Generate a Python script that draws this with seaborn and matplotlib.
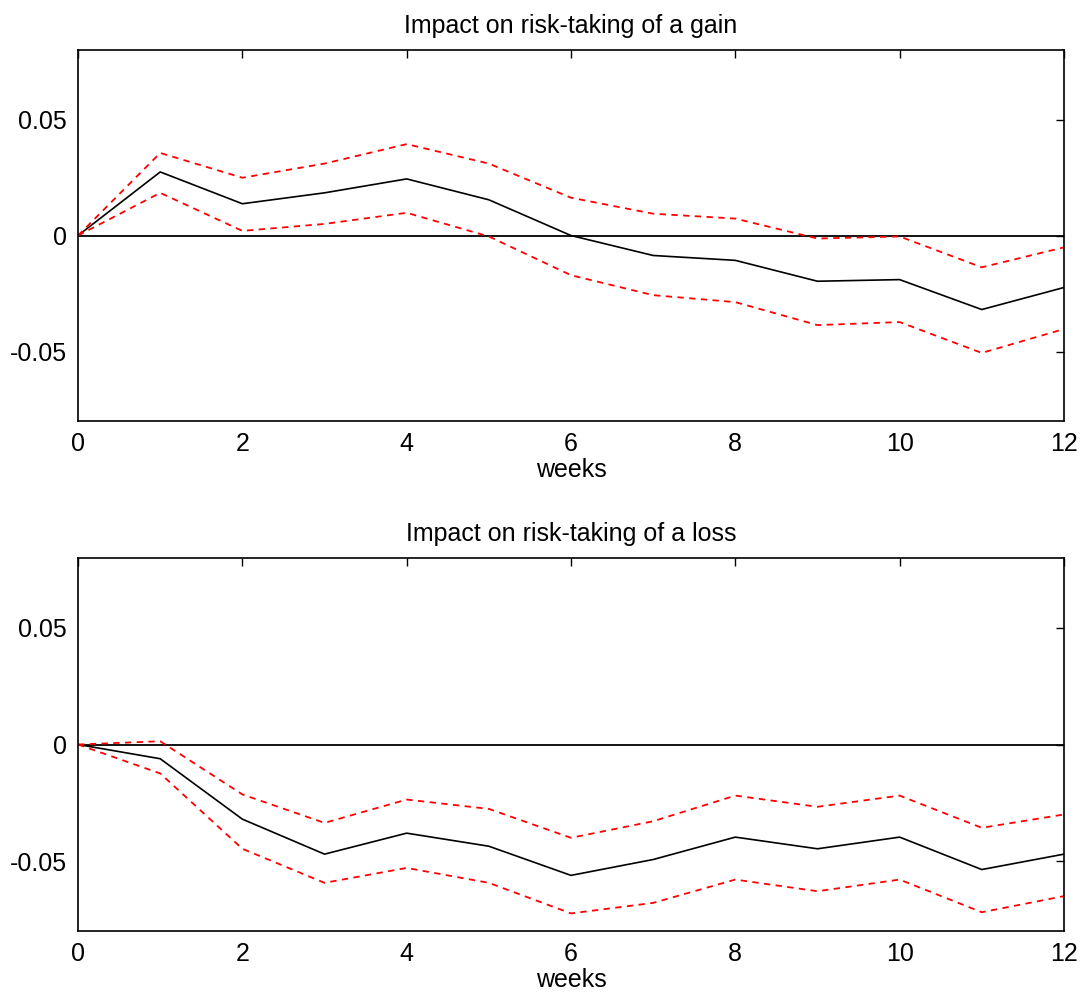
import seaborn as sns
import pandas as pd
import matplotlib.pyplot as plt

weeks = list(range(13))

gain_mean = [0, 0.0274, 0.0137, 0.0184, 0.0244, 0.0154, 0.0, -0.0086, -0.0107, -0.0197, -0.0190, -0.0319, -0.0224]
gain_upper = [0, 0.0356, 0.0249, 0.0310, 0.0394, 0.0310, 0.0163, 0.0094, 0.0073, -0.0013, -0.0004, -0.0137, -0.0051]
gain_lower = [0, 0.0184, 0.0020, 0.0050, 0.0098, -0.0004, -0.0171, -0.0257, -0.0287, -0.0386, -0.0373, -0.0506, -0.0403]

loss_mean = [0, -0.0061, -0.0320, -0.0470, -0.0380, -0.0436, -0.0561, -0.0493, -0.0397, -0.0447, -0.0397, -0.0536, -0.0470]
loss_upper = [0, 0.0014, -0.0214, -0.0336, -0.0236, -0.0276, -0.0400, -0.0329, -0.0219, -0.0267, -0.0219, -0.0357, -0.0300]
loss_lower = [0, -0.0124, -0.0447, -0.0593, -0.0529, -0.0593, -0.0724, -0.0679, -0.0579, -0.0629, -0.0579, -0.0719, -0.0650]

titles = ["Impact on risk-taking of a gain", "Impact on risk-taking of a loss"]

sns.set_style("white")
plt.rcParams['font.family'] = ['Liberation Sans', 'DejaVu Sans']
plt.rcParams['axes.unicode_minus'] = False
plt.rcParams['text.color'] = 'black'
plt.rcParams['axes.labelcolor'] = 'black'
plt.rcParams['xtick.color'] = 'black'
plt.rcParams['ytick.color'] = 'black'

fig = plt.figure(figsize=(10.84, 9.98), dpi=100)
ax_top = fig.add_axes([0.072, 0.578, 0.9095, 0.372])
ax_bot = fig.add_axes([0.072, 0.067, 0.9095, 0.374])

panels = [(ax_top, gain_mean, gain_upper, gain_lower, titles[0]),
          (ax_bot, loss_mean, loss_upper, loss_lower, titles[1])]

for ax, mean, upper, lower, title in panels:
    df = pd.DataFrame({"weeks": weeks, "mean": mean, "upper": upper, "lower": lower})
    ax.axhline(0, color="black", lw=1.3, zorder=1)
    sns.lineplot(x="weeks", y="mean", data=df, color="black", lw=1.2, ax=ax)
    sns.lineplot(x="weeks", y="upper", data=df, color="red", lw=1.3, ax=ax, linestyle=(0, (3.5, 3)))
    sns.lineplot(x="weeks", y="lower", data=df, color="red", lw=1.3, ax=ax, linestyle=(0, (3.5, 3)))
    ax.set_xlim(0, 12)
    ax.set_ylim(-0.08, 0.08)
    ax.set_xticks([0, 2, 4, 6, 8, 10, 12])
    ax.set_yticks([-0.05, 0, 0.05])
    ax.set_yticklabels(["-0.05", "0", "0.05"])
    ax.tick_params(direction="in", top=True, right=True, length=6, width=1,
                   labelsize=18, pad=8)
    ax.set_xlabel("weeks", fontsize=18, labelpad=1)
    ax.set_ylabel("")
    ax.set_title(title, fontsize=18, pad=12)
    for s in ax.spines.values():
        s.set_color("black")
        s.set_linewidth(1.2)

plt.savefig("out.png", dpi=100)
plt.close()
